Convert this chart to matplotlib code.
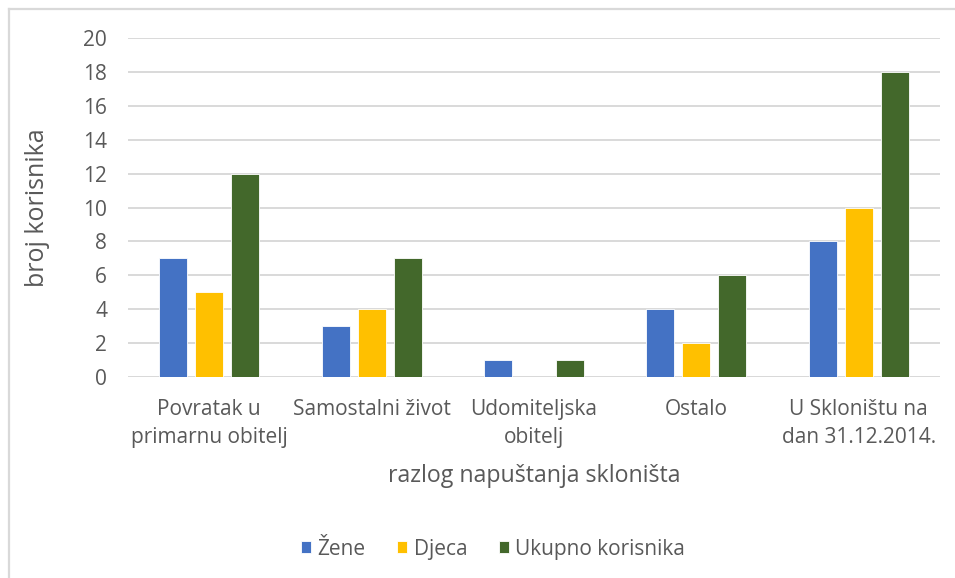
import numpy as np
import matplotlib
matplotlib.use("Agg")
import matplotlib.pyplot as plt
from matplotlib.lines import Line2D

# Podaci
kategorije = ["Povratak u\nprimarnu obitelj", "Samostalni život", "Udomiteljska\nobitelj",
              "Ostalo", "U Skloništu na\ndan 31.12.2014."]
zene = [7, 3, 1, 4, 8]
djeca = [5, 4, 0, 2, 10]
ukupno = [12, 7, 1, 6, 18]
serije = ["Žene", "Djeca", "Ukupno korisnika"]
boje = ["#4472C4", "#FFC000", "#43682B"]

plt.rcParams["font.family"] = ["Open Sans", "DejaVu Sans"]
siva = "#595959"

fig = plt.figure(figsize=(9.55, 5.78), dpi=100)
ax = fig.add_axes([128 / 955, 1 - 377 / 578, 812 / 955, 339 / 578])

x = np.arange(len(kategorije))
sirina = 0.172
korak = 0.222
for i, (vrijednosti, boja) in enumerate(zip([zene, djeca, ukupno], boje)):
    ax.bar(x + (i - 1) * korak, vrijednosti, sirina, color=boja, label=serije[i],
           edgecolor="white", linewidth=0.6, zorder=3)

ax.set_xlim(-0.5, len(kategorije) - 0.5)
ax.set_ylim(0, 20)
ax.set_yticks(range(0, 21, 2))
ax.yaxis.grid(True, color="#D9D9D9", linewidth=1.4, zorder=0)
for s in ax.spines.values():
    s.set_visible(False)
ax.axhline(0, color="#D9D9D9", linewidth=1.4, zorder=2)
ax.tick_params(axis="both", length=0, labelsize=15, labelcolor=siva)
ax.tick_params(axis="y", pad=15)
ax.tick_params(axis="x", pad=16)
ax.set_xticks(x)
ax.set_xticklabels(kategorije, linespacing=1.45)

ax.set_ylabel("broj korisnika", fontsize=18, color=siva, labelpad=24)
ax.set_xlabel("razlog napuštanja skloništa", fontsize=16.7, color=siva, labelpad=11)

ax.legend(loc="center", bbox_to_anchor=(0.4495, -0.508), ncol=3, frameon=False,
          fontsize=15, labelcolor=siva, handlelength=0.5, handleheight=0.5,
          handletextpad=0.3, columnspacing=1.5)

# okvir grafikona (gornji i lijevi rub)
fig.add_artist(Line2D([8.5 / 955, 8.5 / 955], [0, 1 - 8.5 / 578], color="#D9D9D9",
                      linewidth=1.6, transform=fig.transFigure))
fig.add_artist(Line2D([8.5 / 955, 1], [1 - 8.5 / 578, 1 - 8.5 / 578], color="#D9D9D9",
                      linewidth=1.6, transform=fig.transFigure))

fig.savefig("out.png", dpi=100)
